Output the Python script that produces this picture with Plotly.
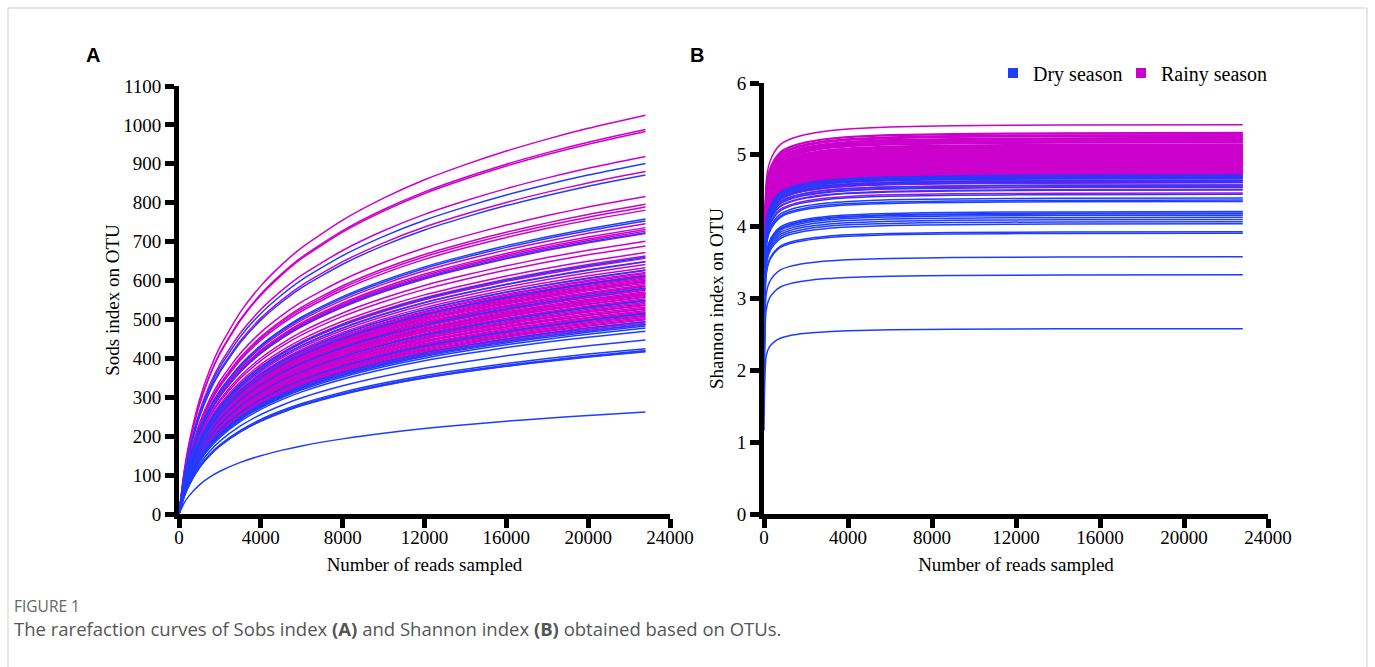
import plotly.graph_objects as go

# ---------------- data ----------------
# shared rarefaction profile (fraction of final value) for Sobs curves
sobs_reads = [0, 250, 500, 1000, 1500, 2000, 3000, 4000, 5000, 6000, 8000,
              10000, 12000, 14000, 16000, 18000, 20000, 22800]
sobs_frac = [0, 0.106, 0.180, 0.286, 0.361, 0.419, 0.506, 0.572, 0.624, 0.668, 0.737,
             0.792, 0.838, 0.876, 0.910, 0.940, 0.967, 1.0]

# shared rarefaction profile (fraction of final value) for Shannon curves
shan_reads = [0, 100, 250, 500, 800, 1200, 2000, 3000, 4000, 6000, 9000, 14000, 22800]
shan_frac = [0.45, 0.85, 0.90, 0.93, 0.95, 0.962, 0.975, 0.984, 0.989, 0.994, 0.997, 0.999, 1.0]

# final (22800 reads) Sobs values per sample
dry_sobs = [901, 871, 758, 753, 723, 660, 648, 627, 612, 580,
            548, 515, 494, 487, 483, 478, 470, 447, 425, 420,
            417, 262]
rainy_sobs = [1025, 988, 983, 919, 880, 816, 796, 789, 781, 746,
              736, 731, 727, 721, 701, 689, 672, 663, 657, 649,
              641, 633, 626, 621, 618, 614, 610, 607, 604, 601,
              598, 596, 593, 589, 586, 584, 580, 577, 575, 571,
              568, 565, 562, 559, 557, 553, 550, 548, 544, 541,
              538, 536, 532, 529, 527, 523, 520, 517, 514, 511,
              508, 505, 502, 499, 495, 491, 487, 418, 612, 566]

# final Shannon values per sample
dry_shannon = [4.72, 4.70, 4.68, 4.67, 4.64, 4.62, 4.58, 4.55, 4.51, 4.45,
               4.40, 4.37, 4.35, 4.21, 4.19, 4.18, 4.16, 4.13, 4.10, 4.07,
               4.04, 3.93, 3.91, 3.58, 3.33, 2.58]
rainy_shannon = [5.42, 5.31, 5.30, 5.28, 5.27, 5.26, 5.24, 5.23, 5.22, 5.20,
                 5.19, 5.18, 5.17, 5.15, 5.14, 5.13, 5.12, 5.10, 5.09, 5.08,
                 5.07, 5.06, 5.05, 5.04, 5.03, 5.02, 5.01, 5.00, 4.99, 4.98,
                 4.97, 4.96, 4.95, 4.94, 4.93, 4.92, 4.91, 4.90, 4.89, 4.88,
                 4.87, 4.86, 4.85, 4.84, 4.83, 4.82, 4.81, 4.80, 4.79, 4.78,
                 4.77, 4.76, 4.75, 4.74, 4.73, 4.72, 4.71, 4.69, 4.67, 4.65,
                 4.63, 4.61, 4.58, 4.56, 4.52, 4.47, 5.21, 5.11, 4.96, 4.88]

x_ticks = [0, 4000, 8000, 12000, 16000, 20000, 24000]
x_tick_labels = ["0", "4000", "8000", "12000", "16000", "20000", "24000"]
seasons = ["Dry season", "Rainy season"]

# ---------------- styling ----------------
BLUE = "#1f3dff"
MAGENTA = "#cc00cc"
W, H = 1375, 667
SERIF = "Liberation Serif"


def px(x):
    return x / W


def py(y):
    return 1 - y / H


def curves(finals, reads, frac):
    X, Y = [], []
    for v in finals:
        X += list(reads) + [None]
        Y += [v * f for f in frac] + [None]
    return X, Y


fig = go.Figure()

for finals, color, xa, ya, reads, frac in [
    (rainy_sobs, MAGENTA, "x", "y", sobs_reads, sobs_frac),
    (dry_sobs, BLUE, "x", "y", sobs_reads, sobs_frac),
    (rainy_shannon, MAGENTA, "x2", "y2", shan_reads, shan_frac),
    (dry_shannon, BLUE, "x2", "y2", shan_reads, shan_frac),
]:
    X, Y = curves(finals, reads, frac)
    fig.add_trace(go.Scatter(
        x=X, y=Y, mode="lines", xaxis=xa, yaxis=ya,
        line=dict(color=color, width=1.5, shape="spline", smoothing=0.6),
        showlegend=False, hoverinfo="skip", connectgaps=False,
    ))

# legend entries (one legend box per season, placed like the reference)
for name, color, lg in zip(seasons, [BLUE, MAGENTA], ["legend", "legend2"]):
    fig.add_trace(go.Scatter(
        x=[None], y=[None], mode="markers", name=name, xaxis="x2", yaxis="y2",
        marker=dict(symbol="square", size=10, color=color), legend=lg,
    ))

axis_common = dict(
    showline=True, linecolor="black", linewidth=5,
    ticks="outside", ticklen=9, tickwidth=5, tickcolor="black",
    showgrid=False, zeroline=False,
    tickfont=dict(family=SERIF, size=19, color="black"),
)
x_common = dict(axis_common, ticklabelstandoff=-7)
legend_common = dict(
    orientation="h", y=py(73), xanchor="left", yanchor="middle",
    font=dict(family=SERIF, size=20, color="black"),
    itemwidth=30, bgcolor="rgba(0,0,0,0)",
)

fig.update_layout(
    width=W, height=H,
    margin=dict(l=0, r=0, t=0, b=0, autoexpand=False),
    paper_bgcolor="white", plot_bgcolor="white",
    showlegend=True,
    legend=dict(legend_common, x=px(993)),
    legend2=dict(legend_common, x=px(1121)),
    xaxis=dict(
        domain=[px(179), px(670)], range=[0, 24000],
        tickvals=x_ticks, ticktext=x_tick_labels,
        anchor="y",
        title=dict(text="Number of reads sampled", standoff=12,
                   font=dict(family=SERIF, size=19, color="black")),
        **x_common,
    ),
    yaxis=dict(
        domain=[py(514), py(86)], range=[0, 1100], dtick=100, tick0=0,
        anchor="x",
        title=dict(text="Sods index on OTU", standoff=0,
                   font=dict(family=SERIF, size=19, color="black")),
        **axis_common,
    ),
    xaxis2=dict(
        domain=[px(764), px(1268)], range=[0, 24000],
        tickvals=x_ticks, ticktext=x_tick_labels,
        anchor="y2",
        title=dict(text="Number of reads sampled", standoff=12,
                   font=dict(family=SERIF, size=19, color="black")),
        **x_common,
    ),
    yaxis2=dict(
        domain=[py(514), py(83)], range=[0, 6], dtick=1, tick0=0,
        anchor="x2",
        title=dict(text="Shannon index on OTU", standoff=10,
                   font=dict(family=SERIF, size=19, color="black")),
        **axis_common,
    ),
    shapes=[dict(
        type="rect", xref="paper", yref="paper",
        x0=px(8), x1=px(1367), y0=py(700), y1=py(8),
        line=dict(color="#cfcfcf", width=1), fillcolor="rgba(0,0,0,0)",
        layer="below",
    )],
    annotations=[
        dict(text="<b>A</b>", x=px(93), y=py(55), xref="paper", yref="paper",
             xanchor="center", yanchor="middle", showarrow=False,
             font=dict(family="Liberation Sans", size=20, color="black")),
        dict(text="<b>B</b>", x=px(697), y=py(55), xref="paper", yref="paper",
             xanchor="center", yanchor="middle", showarrow=False,
             font=dict(family="Liberation Sans", size=20, color="black")),
        dict(text="FIGURE 1", x=px(12), y=py(606), xref="paper", yref="paper",
             xanchor="left", yanchor="middle", showarrow=False,
             font=dict(family="Open Sans", size=15.5, color="#666666")),
        dict(text="The rarefaction curves of Sobs index <b>(A)</b> and Shannon index <b>(B)</b> obtained based on OTUs.",
             x=px(12), y=py(628), xref="paper", yref="paper",
             xanchor="left", yanchor="middle", showarrow=False,
             font=dict(family="Open Sans", size=18.5, color="#555555")),
    ],
)

fig.write_html("out.html")
